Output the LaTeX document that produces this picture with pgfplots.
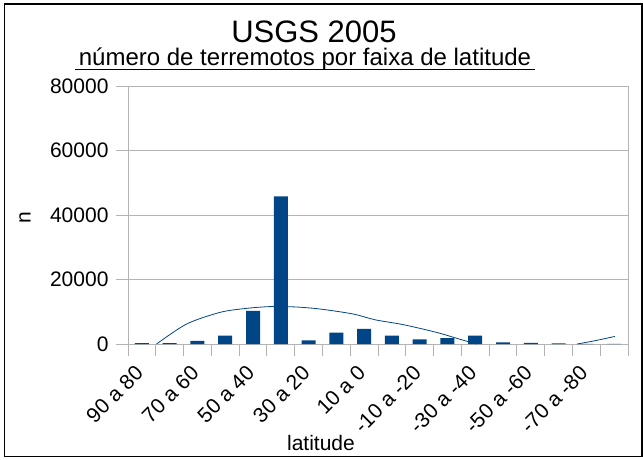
\documentclass[border=0pt]{standalone}
\usepackage{fontspec}
\setmainfont{Liberation Sans}
\usepackage{pgfplots}
\pgfplotsset{compat=1.18}
\definecolor{barblue}{HTML}{004586}
\definecolor{gridgray}{HTML}{B3B3B3}

\begin{document}
\begin{tikzpicture}
\path[use as bounding box] (0pt,0pt) rectangle (643pt,459pt);
\draw[black, line width=1.2pt] (4.5pt,2.5pt) rectangle (642pt,455pt);

% titles
\node[anchor=base, font=\fontsize{31}{35}\selectfont] at (314pt,416pt) {USGS 2005};
\node[anchor=base, font=\fontsize{24}{28}\selectfont] (sub) at (305pt,393pt) {número de terremotos por faixa de latitude};
\draw[line width=0.9pt] ([yshift=-3pt]sub.base west) -- ([yshift=-3pt]sub.base east);

\begin{axis}[
    at={(128pt,115pt)}, anchor=south west,
    scale only axis,
    width=500pt, height=258pt,
    xmin=0.5, xmax=18.5,
    ymin=0, ymax=80000,
    ytick={0,20000,...,80000},
    scaled y ticks=false,
    /pgf/number format/1000 sep={},
    /pgf/number format/assume math mode=true,
    xtick={0.5,1.5,...,18.5},
    xticklabels={},
    extra x ticks={1,3,...,17},
    extra x tick labels={90 a 80,70 a 60,50 a 40,30 a 20,10 a 0,-10 a -20,-30 a -40,-50 a -60,-70 a -80},
    extra x tick style={major tick length=0pt, grid=none,
        tick label style={rotate=45, anchor=east}},
    xticklabel shift=23pt,
    yticklabel shift=4pt,
    xtick pos=bottom, ytick pos=left,
    tick align=outside,
    major tick length=12pt,
    tick style={gridgray, line width=0.8pt},
    ymajorgrids,
    grid style={gridgray, line width=0.8pt},
    axis line style={gridgray, line width=0.8pt},
    tick label style={font=\fontsize{21}{25}\selectfont},
]
\addplot[ybar, bar width=14pt, fill=barblue, draw=none] coordinates {
    (1,300) (2,300) (3,1000) (4,2600) (5,10300) (6,45800)
    (7,1100) (8,3500) (9,4700) (10,2600) (11,1400) (12,1800)
    (13,2600) (14,500) (15,350) (16,200) (17,50) (18,20)
};
% trend line
\addplot[smooth, no marks, barblue, line width=0.8pt] coordinates {
    (1.53,0) (2.61,6200) (3.81,9800) (4.71,11000) (5.61,11600) (6.5,11500)
    (7.41,10850) (8.61,9300) (9.4,7500) (10.41,6000) (11.61,3600) (12.4,1600) (13.04,0)
};
\addplot[smooth, no marks, barblue, line width=0.8pt] coordinates {
    (16.67,0) (17.3,1000) (18.03,2350)
};
\end{axis}

\node[rotate=90, anchor=center, font=\fontsize{21}{25}\selectfont] at (25pt,241pt) {n};
\node[anchor=base, font=\fontsize{21}{25}\selectfont] at (321pt,9pt) {latitude};
\end{tikzpicture}
\end{document}
